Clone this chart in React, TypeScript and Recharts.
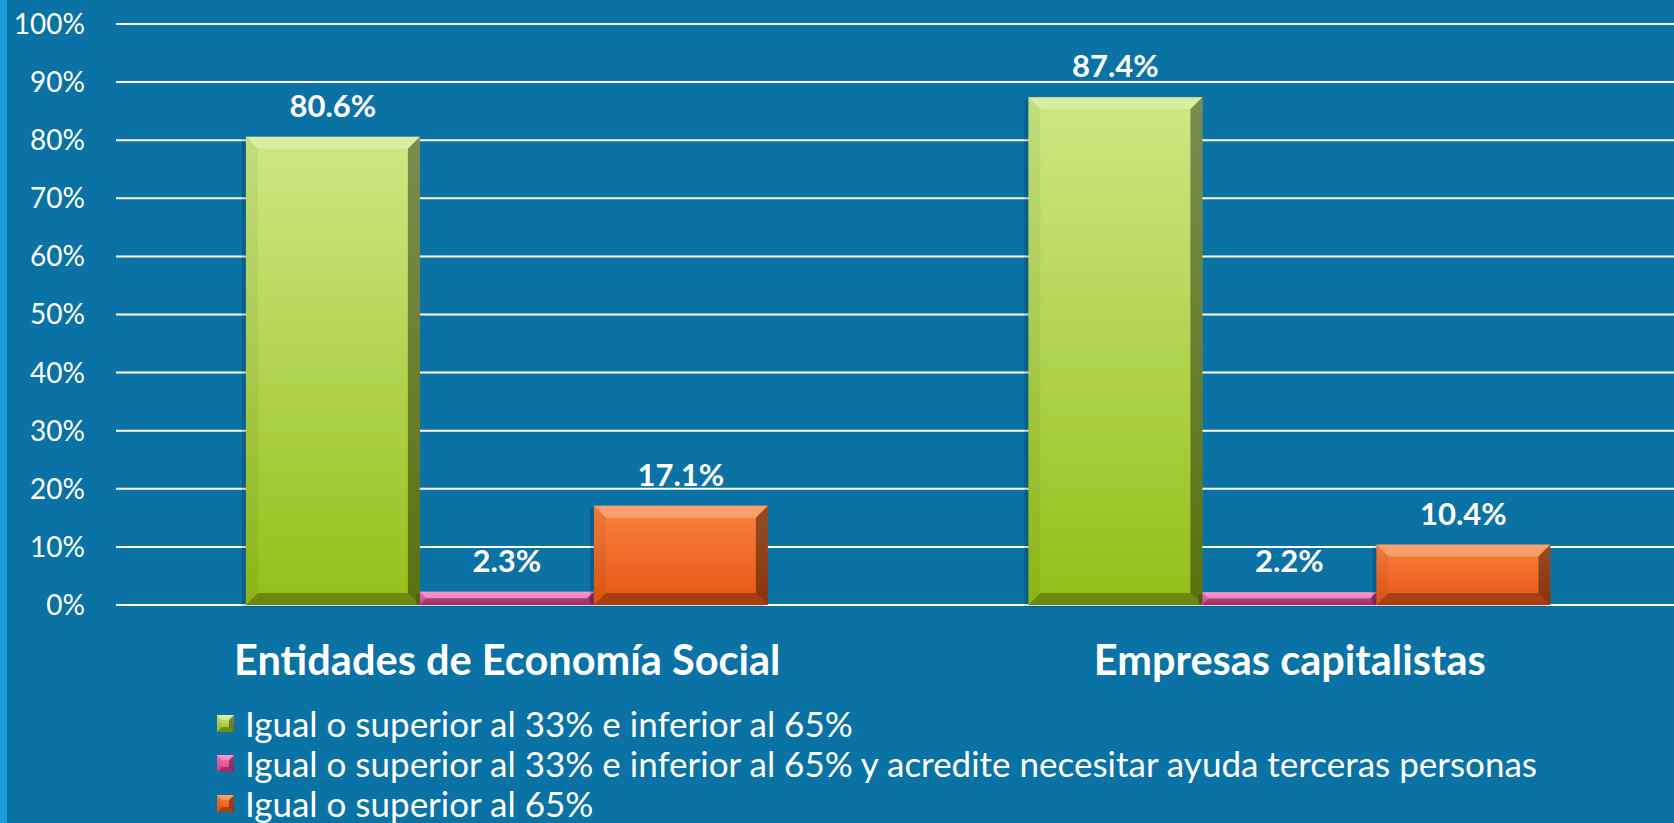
import React from 'react';
import { BarChart, Bar, XAxis, YAxis, CartesianGrid, Legend, LabelList } from 'recharts';

// Chart values
const categories = ['Entidades de Economía Social', 'Empresas capitalistas'];
const seriesNames = [
  'Igual o superior al 33% e inferior al 65%',
  'Igual o superior al 33% e inferior al 65% y acredite necesitar ayuda terceras personas',
  'Igual o superior al 65%',
];
const moderate = [80.6, 87.4];
const moderateAssisted = [2.3, 2.2];
const severe = [17.1, 10.4];
const yTicks = [0, 10, 20, 30, 40, 50, 60, 70, 80, 90, 100];

const data = categories.map((category, i) => ({
  category,
  moderate: moderate[i],
  assisted: moderateAssisted[i],
  severe: severe[i],
}));

const BG = '#0a72a4';
const FONT = 'Lato, "Open Sans", sans-serif';

const SERIES = [
  { key: 'moderate', name: seriesNames[0], top: '#cde985', bottom: '#95be18' },
  { key: 'assisted', name: seriesNames[1], top: '#f577b9', bottom: '#d9408e' },
  { key: 'severe', name: seriesNames[2], top: '#f8823f', bottom: '#e85514' },
];

// beveled block, like the old office 3d bars
function Bevel({ x, y, width, height, top, bottom, id, maxBevel = 12, shadow = true }: any) {
  if (!height || height <= 0) return null;
  const b = Math.min(maxBevel, height / 2, width / 2);
  const x2 = x + width;
  const y2 = y + height;
  const pts = (a: number[][]) => a.map((p) => p.join(',')).join(' ');
  return (
    <g>
      <defs>
        <linearGradient id={id} x1="0" y1="0" x2="0" y2="1">
          <stop offset="0%" stopColor={top} />
          <stop offset="100%" stopColor={bottom} />
        </linearGradient>
      </defs>
      {shadow && <rect x={x - 4} y={y + 2} width={width} height={height} fill="#000" fillOpacity={0.16} />}
      <rect x={x} y={y} width={width} height={height} fill={`url(#${id})`} />
      <polygon points={pts([[x, y], [x2, y], [x2 - b, y + b], [x + b, y + b]])} fill="#fff" fillOpacity={0.25} />
      <polygon points={pts([[x, y], [x + b, y + b], [x + b, y2 - b], [x, y2]])} fill="#000" fillOpacity={0.05} />
      <polygon points={pts([[x2, y], [x2, y2], [x2 - b, y2 - b], [x2 - b, y + b]])} fill="#000" fillOpacity={0.4} />
      <polygon points={pts([[x, y2], [x2, y2], [x2 - b, y2 - b], [x + b, y2 - b]])} fill="#000" fillOpacity={0.28} />
    </g>
  );
}

const barShape = (s: any) => (props: any) => (
  <Bevel {...props} top={s.top} bottom={s.bottom} id={`grad-${s.key}-${props.index}`} />
);

const renderLegend = () => (
  <div style={{ paddingLeft: 217, height: 120, fontFamily: FONT, fontSize: 35, color: '#fff' }}>
    {SERIES.map((s) => (
      <div key={s.key} style={{ display: 'flex', alignItems: 'center', height: 40, whiteSpace: 'nowrap' }}>
        <svg width={17} height={17} style={{ marginRight: 11, flex: 'none' }}>
          <Bevel x={0} y={0} width={17} height={17} top={s.top} bottom={s.bottom} id={`leg-${s.key}`} maxBevel={5} shadow={false} />
        </svg>
        <span>{s.name}</span>
      </div>
    ))}
  </div>
);

export default function App() {
  return (
    <div style={{ position: 'absolute', left: 0, top: 0, width: 1674, height: 823, background: BG, overflow: 'hidden' }}>
      <div style={{ position: 'absolute', left: 0, top: 0, width: 7, height: 823, background: '#1b9ddc' }} />
      <BarChart
        width={1674}
        height={823}
        data={data}
        margin={{ top: 24, right: -7, left: 0, bottom: 0 }}
        barCategoryGap="16.6%"
        barGap={0}
      >
        <CartesianGrid vertical={false} stroke="#ffffff" strokeWidth={2} />
        <XAxis
          dataKey="category"
          axisLine={false}
          tickLine={false}
          tickSize={0}
          tickMargin={41}
          height={98}
          interval={0}
          tick={{ fill: '#fff', fontSize: 41.5, fontWeight: 700, fontFamily: FONT }}
        />
        <YAxis
          domain={[0, 100]}
          ticks={yTicks}
          width={116}
          axisLine={false}
          tickLine={false}
          tickSize={0}
          tickMargin={31}
          tickFormatter={(v: number) => `${v}%`}
          tick={{ fill: '#fff', fontSize: 28, fontFamily: FONT }}
        />
        <Legend verticalAlign="bottom" align="left" content={renderLegend} />
        {SERIES.map((s) => (
          <Bar
            key={s.key}
            dataKey={s.key}
            name={s.name}
            fill={s.bottom}
            shape={barShape(s)}
            isAnimationActive={false}
          >
            <LabelList
              dataKey={s.key}
              position="top"
              offset={20}
              fill="#fff"
              fontSize={31}
              fontWeight={700}
              fontFamily={FONT}
              formatter={(v: any) => `${Number(v).toFixed(1)}%`}
            />
          </Bar>
        ))}
      </BarChart>
    </div>
  );
}
